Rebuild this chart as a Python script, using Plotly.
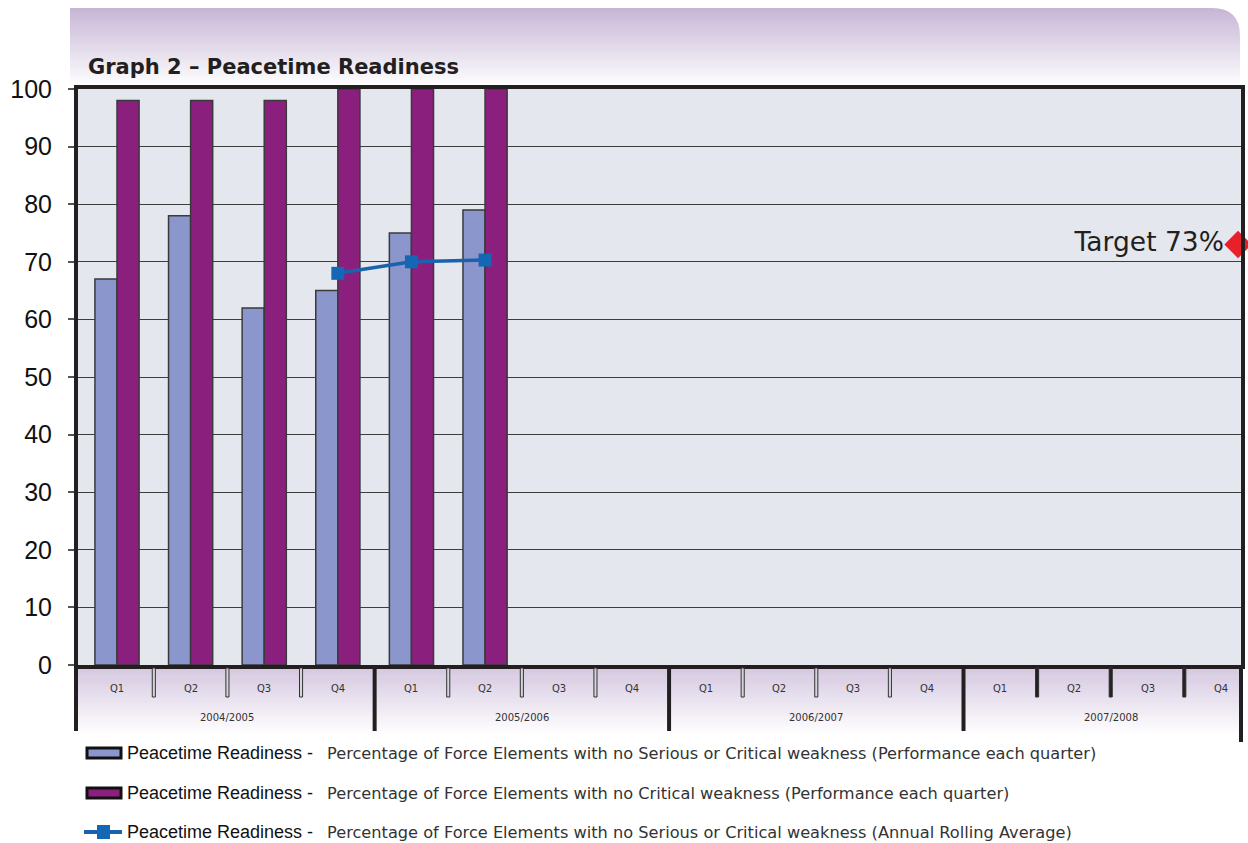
import plotly.graph_objects as go

# ---- data -------------------------------------------------------------
years = ["2004/2005"] * 4 + ["2005/2006"] * 4 + ["2006/2007"] * 4 + ["2007/2008"] * 4
quarters = ["Q1", "Q2", "Q3", "Q4"] * 4
year_labels = ["2004/2005", "2005/2006", "2006/2007", "2007/2008"]

no_serious_or_critical = [67, 78, 62, 65, 75, 79, None, None, None, None, None, None, None, None, None, None]
no_critical = [98, 98, 98, 100, 100, 100, None, None, None, None, None, None, None, None, None, None]
rolling_average = [None, None, None, 68, 70, 70.3, None, None, None, None, None, None, None, None, None, None]

target_value = 73
y_ticks = [0, 10, 20, 30, 40, 50, 60, 70, 80, 90, 100]

series_prefix = "Peacetime Readiness -"
series_desc = [
    "Percentage of Force Elements with no Serious or Critical weakness (Performance each quarter)",
    "Percentage of Force Elements with no Critical weakness (Performance each quarter)",
    "Percentage of Force Elements with no Serious or Critical weakness (Annual Rolling Average)",
]
title_text = "Graph 2 \u2013 Peacetime Readiness"

# ---- page geometry (pixels) -----------------------------------------------
W, H = 1248, 843
L, R = 78, 1241      # plot area left / right
T, B = 89, 665       # plot area top / bottom


def px(x):
    return (x - L) / (R - L)


def py(y):
    return (B - y) / (B - T)


BLUE = "#8a96cc"
PURPLE = "#8b1f7e"
LINE_BLUE = "#1a62ae"
INK = "#231f20"
SANS = "Liberation Sans, Arial, sans-serif"
WIDE = "DejaVu Sans, sans-serif"

x_cat = [years, quarters]

fig = go.Figure()

fig.add_trace(go.Bar(
    x=x_cat, y=no_serious_or_critical, name=series_desc[0],
    marker=dict(color=BLUE, line=dict(color="#3a3a3a", width=1.5)),
))
fig.add_trace(go.Bar(
    x=x_cat, y=no_critical, name=series_desc[1],
    marker=dict(color=PURPLE, line=dict(color="#3a3a3a", width=1.5)),
))
fig.add_trace(go.Scatter(
    x=x_cat, y=rolling_average, name=series_desc[2], mode="lines+markers",
    line=dict(color=LINE_BLUE, width=3.5),
    marker=dict(symbol="square", size=13, color="#1566b4"),
))

# target marker on the right-hand edge
fig.add_trace(go.Scatter(
    x=[px(1238)], y=[target_value], xaxis="x2", mode="markers+text",
    marker=dict(symbol="diamond", size=21, color="#e8202a"),
    text=[f"Target {target_value}%"], textposition="middle left",
    textfont=dict(family=WIDE, size=26.5, color=INK),
    cliponaxis=False, hoverinfo="skip",
))

shapes = []

# header band: lavender fading to white
hy0, hy1 = 8, 88
steps = 40
c0 = (199, 182, 214)
for i in range(steps):
    t = i / (steps - 1)
    col = tuple(round(c0[k] + (255 - c0[k]) * t) for k in range(3))
    ya = hy0 + (hy1 - hy0) * i / steps
    yb = hy0 + (hy1 - hy0) * (i + 1) / steps + 0.6
    shapes.append(dict(type="rect", xref="paper", yref="paper", layer="below",
                       x0=px(70), x1=px(1240), y0=py(yb), y1=py(ya),
                       fillcolor="rgb(%d,%d,%d)" % col, line=dict(width=0)))
# rounded top-right corner of the header
shapes.append(dict(
    type="path", xref="paper", yref="paper", layer="below",
    path=(f"M {px(1212)},{py(7)} L {px(1243)},{py(7)} L {px(1243)},{py(36)} "
          f"L {px(1240)},{py(36)} Q {px(1240)},{py(8)} {px(1212)},{py(8)} Z"),
    fillcolor="white", line=dict(width=0)))

# category band below the x axis
by0, by1 = 667, 736
bsteps = 30
c1 = (213, 200, 224)
for i in range(bsteps):
    t = i / (bsteps - 1)
    col = tuple(round(c1[k] + (255 - c1[k]) * t) for k in range(3))
    ya = by0 + (by1 - by0) * i / bsteps
    yb = by0 + (by1 - by0) * (i + 1) / bsteps + 0.6
    shapes.append(dict(type="rect", xref="paper", yref="paper", layer="below",
                       x0=px(76), x1=px(1240), y0=py(yb), y1=py(ya),
                       fillcolor="rgb(%d,%d,%d)" % col, line=dict(width=0)))

# quarter separators inside each year
for i in range(len(quarters) - 1):
    if (i + 1) % 4 == 0:
        continue
    last_year = i >= 12
    shapes.append(dict(
        type="rect", xref="x", yref="paper",
        x0=i + 0.5 - 0.021, x1=i + 0.5 + 0.021, y0=py(697), y1=py(668),
        fillcolor="#222222" if last_year else "#d4d4dc",
        line=dict(color="#333333", width=1)))

# year dividers
shapes.append(dict(type="line", xref="paper", yref="paper",
                   x0=px(76), x1=px(76), y0=py(B), y1=py(731),
                   line=dict(color=INK, width=4)))
for b in [3.5, 7.5, 11.5]:
    shapes.append(dict(type="line", xref="x", yref="paper",
                       x0=b, x1=b, y0=py(B), y1=py(731),
                       line=dict(color=INK, width=4)))

# right border running down through the category band
shapes.append(dict(type="line", xref="paper", yref="paper",
                   x0=px(1241), x1=px(1241), y0=py(B), y1=py(742),
                   line=dict(color=INK, width=4)))

# legend icons
rows = [753, 793, 832]
for row, col in zip(rows[:2], [BLUE, PURPLE]):
    shapes.append(dict(type="rect", xref="paper", yref="paper",
                       x0=px(87), x1=px(121), y0=py(row + 5), y1=py(row - 5),
                       fillcolor=col, line=dict(color="#111111", width=3)))
shapes.append(dict(type="line", xref="paper", yref="paper",
                   x0=px(84), x1=px(122), y0=py(rows[2]), y1=py(rows[2]),
                   line=dict(color=LINE_BLUE, width=4)))
shapes.append(dict(type="rect", xref="paper", yref="paper",
                   x0=px(97), x1=px(110), y0=py(rows[2] + 7), y1=py(rows[2] - 7),
                   fillcolor="#1566b4", line=dict(width=0)))

annotations = [
    dict(text=f"<b>{title_text}</b>", xref="paper", yref="paper",
         x=px(86), y=py(67), xanchor="left", yanchor="middle", showarrow=False,
         font=dict(family=WIDE, size=21, color=INK)),
]

# quarter and year labels placed on the category axis
for i, q in enumerate(quarters):
    annotations.append(dict(
        text=q, xref="x", yref="paper", x=i, y=py(688),
        xanchor="center", yanchor="middle", showarrow=False,
        font=dict(family=WIDE, size=10, color="#333333")))
for k, yl in enumerate(year_labels):
    annotations.append(dict(
        text=yl, xref="x", yref="paper", x=4 * k + 1.5, y=py(717),
        xanchor="center", yanchor="middle", showarrow=False,
        font=dict(family=WIDE, size=10, color="#333333")))

for row, desc in zip(rows, series_desc):
    annotations.append(dict(
        text=series_prefix, xref="paper", yref="paper", x=px(125), y=py(row),
        xanchor="left", yanchor="middle", showarrow=False,
        font=dict(family=SANS, size=18, color="#111111")))
    annotations.append(dict(
        text=desc, xref="paper", yref="paper", x=px(325), y=py(row),
        xanchor="left", yanchor="middle", showarrow=False,
        font=dict(family=WIDE, size=16.2, color="#333333")))

fig.update_layout(
    width=W, height=H,
    margin=dict(l=L, r=W - R, t=T, b=H - B, pad=0),
    paper_bgcolor="white",
    plot_bgcolor="#e4e7ee",
    barmode="group", bargap=0.40, bargroupgap=0,
    showlegend=False,
    shapes=shapes,
    annotations=annotations,
    xaxis=dict(
        type="multicategory", range=[-0.53, 15.27],
        showgrid=False, zeroline=False,
        showline=True, linecolor=INK, linewidth=4, mirror=True,
        ticks="", showticklabels=False, showdividers=False,
        automargin=False,
    ),
    xaxis2=dict(overlaying="x", range=[0, 1], visible=False),
    yaxis=dict(
        range=[0, 100], tickvals=y_ticks, ticktext=[str(v) for v in y_ticks],
        showgrid=True, gridcolor="#3d3d3d", gridwidth=1.3,
        zeroline=False,
        showline=True, linecolor=INK, linewidth=4, mirror=True,
        ticks="outside", ticklen=6, tickwidth=2, tickcolor="#555555",
        ticklabelstandoff=11,
        tickfont=dict(family=SANS, size=25, color="#111111"),
        automargin=False,
    ),
)

fig.write_html("out.html")
